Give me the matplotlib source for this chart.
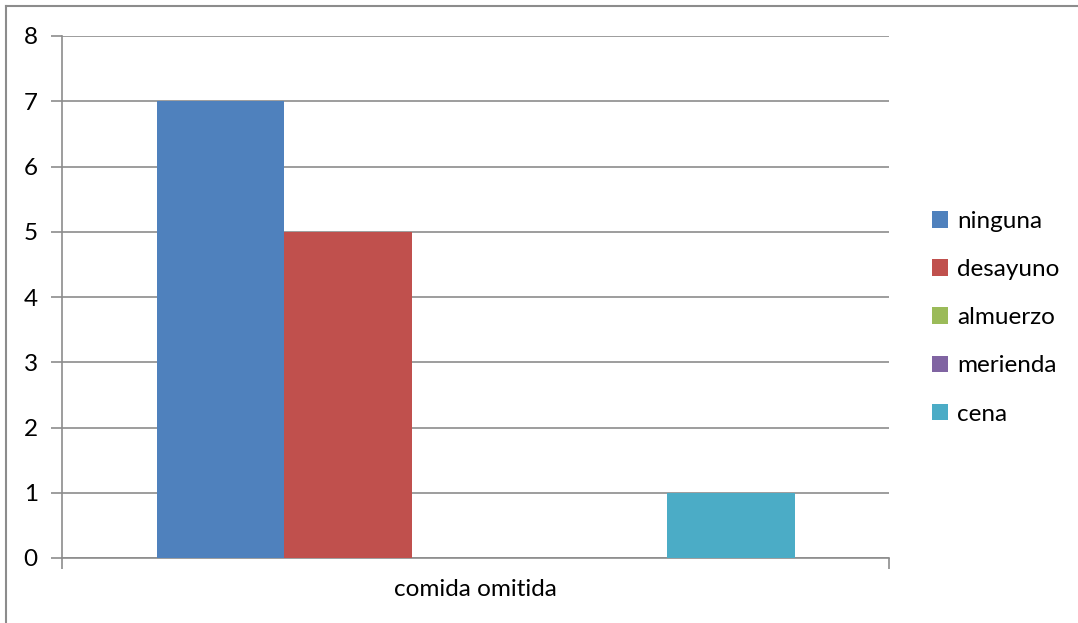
import matplotlib
matplotlib.use("Agg")
import matplotlib.pyplot as plt
from matplotlib.lines import Line2D
from matplotlib.patches import Patch

category = "comida omitida"
series = ["ninguna", "desayuno", "almuerzo", "merienda", "cena"]
values = [7, 5, 0, 0, 1]
colors = ["#4F81BD", "#C0504D", "#9BBB59", "#8064A2", "#4BACC6"]
y_ticks = [0, 1, 2, 3, 4, 5, 6, 7, 8]

plt.rcParams["font.family"] = ["Lato", "DejaVu Sans"]
FS = 17.5

W, H = 1078, 623
fig = plt.figure(figsize=(W / 100, H / 100), dpi=100)
ax = fig.add_axes([62 / W, 1 - 558 / H, (889 - 62) / W, (558 - 36) / H])

grid_c = "#8C8C8C"
bar_w = 127.6 / 827
start = 0.5 - bar_w * len(series) / 2
for i, (name, v, c) in enumerate(zip(series, values, colors)):
    ax.bar(start + bar_w * (i + 0.5), v, width=bar_w, color=c, label=name, zorder=3)

ax.set_xlim(0, 1)
ax.set_ylim(0, 8)
ax.set_yticks(y_ticks)
ax.set_yticklabels([str(t) for t in y_ticks], fontsize=FS)
ax.yaxis.grid(True, color=grid_c, linewidth=1.2, zorder=0)
ax.set_axisbelow(True)
ax.set_xticks([0, 1])
ax.set_xticklabels(["", ""])
ax.tick_params(axis="y", length=8, width=1.2, color=grid_c, pad=9.5)
ax.tick_params(axis="x", length=8, width=1.2, color=grid_c)
ax.text(0.5, -0.040, category, transform=ax.transAxes, ha="center", va="top", fontsize=FS)

for s in ["top", "right"]:
    ax.spines[s].set_visible(False)
for s in ["left", "bottom"]:
    ax.spines[s].set_color(grid_c)
    ax.spines[s].set_linewidth(1.2)

handles = [Patch(facecolor=c, edgecolor="none") for c in colors]
fig.legend(handles, series, loc="upper left", bbox_to_anchor=(922 / W, 1 - 201 / H),
           frameon=False, fontsize=FS, handlelength=0.68, handleheight=0.68,
           handletextpad=0.35, labelspacing=1.12, borderaxespad=0)

# outer chart frame (left and top edges)
fig.add_artist(Line2D([6 / W, 6 / W], [0, 1 - 6 / H], transform=fig.transFigure,
                      color="#8C8C8C", linewidth=1.5))
fig.add_artist(Line2D([6 / W, 1], [1 - 6 / H, 1 - 6 / H], transform=fig.transFigure,
                      color="#8C8C8C", linewidth=1.5))

fig.savefig("out.png", dpi=100, facecolor="white")
